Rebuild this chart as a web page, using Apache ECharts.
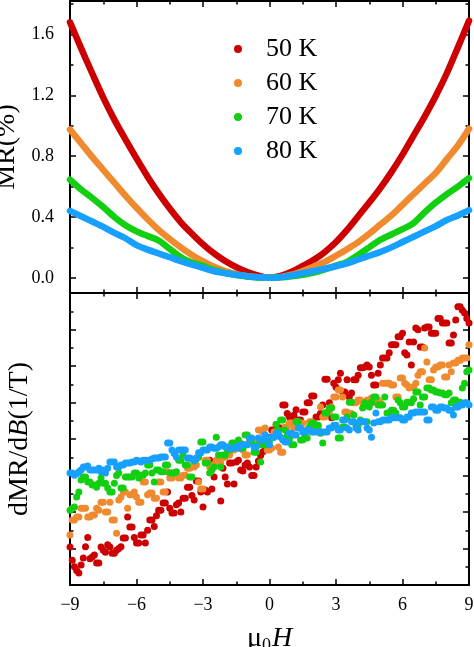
<!DOCTYPE html>
<html>
<head>
<meta charset="utf-8">
<title>MR and dMR/dB</title>
<script src="https://cdn.jsdelivr.net/npm/echarts@6.0.0/dist/echarts.min.js"></script>
<style>
  html, body { margin: 0; padding: 0; background: #fff; }
  #chart { width: 474px; height: 647px; }
</style>
</head>
<body>
<div id="chart"></div>
<script>
// legend / series names and colours
const temps = ['50 K', '60 K', '70 K', '80 K'];
const colors = ['#cc0000', '#f08a2e', '#12cf12', '#17a0ff'];

// top panel: MR(%) vs field, 0.5 T step
const fieldMR = [-9, -8.5, -8, -7.5, -7, -6.5, -6, -5.5, -5, -4.5, -4, -3.5, -3, -2.5, -2, -1.5, -1, -0.5, 0,
  0.5, 1, 1.5, 2, 2.5, 3, 3.5, 4, 4.5, 5, 5.5, 6, 6.5, 7, 7.5, 8, 8.5, 9];
const mr50 = [1.68, 1.51, 1.345, 1.185, 1.04, 0.91, 0.785, 0.665, 0.555, 0.455, 0.365, 0.29, 0.22, 0.16, 0.11, 0.07, 0.038, 0.014, 0,
  0.012, 0.04, 0.078, 0.118, 0.17, 0.235, 0.315, 0.405, 0.495, 0.59, 0.695, 0.81, 0.935, 1.06, 1.195, 1.345, 1.515, 1.69];
const mr60 = [0.975, 0.885, 0.795, 0.71, 0.625, 0.54, 0.46, 0.385, 0.315, 0.255, 0.2, 0.15, 0.108, 0.072, 0.044, 0.024, 0.01, 0.003, 0,
  0.005, 0.02, 0.045, 0.075, 0.105, 0.145, 0.188, 0.235, 0.29, 0.35, 0.41, 0.48, 0.55, 0.62, 0.69, 0.78, 0.87, 0.98];
const mr70 = [0.645, 0.58, 0.525, 0.465, 0.40, 0.345, 0.305, 0.275, 0.245, 0.19, 0.135, 0.10, 0.078, 0.05, 0.032, 0.018, 0.008, 0.002, 0,
  0.003, 0.01, 0.02, 0.035, 0.055, 0.08, 0.105, 0.15, 0.20, 0.25, 0.285, 0.32, 0.36, 0.43, 0.495, 0.55, 0.60, 0.655];
const mr80 = [0.44, 0.405, 0.37, 0.335, 0.295, 0.26, 0.215, 0.185, 0.16, 0.135, 0.11, 0.087, 0.065, 0.043, 0.03, 0.02, 0.01, 0.003, 0,
  0.004, 0.015, 0.03, 0.045, 0.06, 0.076, 0.095, 0.12, 0.145, 0.17, 0.2, 0.235, 0.27, 0.305, 0.34, 0.38, 0.41, 0.445];

// bottom panel: dMR/dB (arb. units, 0..8) vs field
// even tenths
const fieldD = [-9, -8.8, -8.6, -8.4, -8.2, -8, -7.8, -7.6, -7.4, -7.2, -7, -6.8, -6.6, -6.4, -6.2, -6, -5.8, -5.6, -5.4, -5.2,
  -5, -4.8, -4.6, -4.4, -4.2, -4, -3.8, -3.6, -3.4, -3.2, -3, -2.8, -2.6, -2.4, -2.2, -2, -1.8, -1.6, -1.4, -1.2,
  -1, -0.8, -0.6, -0.4, -0.2, 0, 0.2, 0.4, 0.6, 0.8, 1, 1.2, 1.4, 1.6, 1.8, 2, 2.2, 2.4, 2.6, 2.8,
  3, 3.2, 3.4, 3.6, 3.8, 4, 4.2, 4.4, 4.6, 4.8, 5, 5.2, 5.4, 5.6, 5.8, 6, 6.2, 6.4, 6.6, 6.8,
  7, 7.2, 7.4, 7.6, 7.8, 8, 8.2, 8.4, 8.6, 8.8, 9];
const d50 = [1.04, 0.50, 0.33, 0.74, 1.30, 0.77, 0.60, 1.04, 0.90, 1.04,
  0.87, 1.00, 1.29, 1.86, 1.59, 1.15, 1.37, 1.15, 1.78, 1.60,
  2.05, 2.25, 2.55, 1.97, 2.20, 2.00, 2.38, 2.68, 2.33, 2.85,
  2.14, 2.55, 2.63, 3.42, 2.30, 2.96, 3.34, 2.77, 3.42, 3.12,
  3.34, 3.00, 3.23, 3.55, 3.80, 4.05, 4.25, 4.10, 4.93, 4.70,
  4.60, 4.80, 4.52, 4.74, 4.99, 5.18, 4.60, 4.93, 5.64, 4.58,
  5.42, 5.80, 5.29, 5.15, 5.62, 5.75, 5.95, 6.03, 5.75, 5.48,
  6.03, 6.22, 6.36, 6.58, 6.80, 6.90, 6.30, 6.03, 7.04, 6.52,
  7.04, 7.07, 6.90, 7.30, 7.18, 7.18, 6.63, 7.26, 7.62, 7.45,
  7.18];
const d60 = [1.37, 1.78, 1.86, 2.10, 1.86, 1.92, 2.10, 2.27, 2.00, 2.27,
  1.78, 2.33, 2.55, 2.10, 2.47, 2.41, 2.27, 2.82, 2.52, 2.38,
  2.82, 2.55, 3.10, 2.93, 3.07, 2.93, 3.01, 3.20, 3.23, 2.82,
  2.63, 3.42, 3.23, 3.42, 3.34, 3.50, 3.56, 3.70, 3.89, 3.70,
  3.56, 3.97, 3.89, 4.25, 4.30, 3.70, 4.19, 3.78, 3.64, 4.33,
  4.44, 4.47, 4.44, 4.25, 4.47, 4.30, 4.30, 4.60, 4.74, 4.88,
  5.15, 5.34, 4.74, 4.70, 4.99, 5.07, 4.99, 5.07, 5.12, 5.00,
  4.99, 5.53, 5.53, 5.48, 5.15, 5.67, 5.48, 5.42, 5.53, 5.84,
  6.49, 5.62, 5.89, 5.97, 6.03, 5.70, 5.84, 6.08, 6.16, 6.22,
  6.58];
const d70 = [2.05, 2.14, 2.55, 2.96, 2.82, 2.74, 2.68, 2.93, 2.79, 2.55,
  2.79, 3.07, 2.66, 2.96, 2.96, 3.07, 3.01, 3.07, 3.29, 2.82,
  3.15, 3.10, 3.29, 3.07, 3.10, 3.42, 3.29, 2.96, 3.40, 3.50,
  3.92, 3.34, 3.15, 4.05, 3.23, 3.56, 3.70, 3.89, 3.97, 3.75,
  4.11, 3.89, 3.64, 3.37, 3.84, 3.95, 4.05, 4.25, 4.52, 4.10,
  3.84, 4.47, 3.97, 4.10, 4.33, 4.44, 4.38, 3.89, 4.71, 4.85,
  4.60, 4.03, 4.33, 5.01, 4.66, 4.38, 4.85, 4.47, 5.01, 5.15,
  4.93, 5.15, 4.71, 4.79, 5.07, 4.88, 5.01, 4.99, 5.29, 4.93,
  5.15, 5.40, 5.34, 5.29, 5.26, 5.21, 4.99, 5.07, 5.01, 5.53,
  5.89];
const d80 = [3.07, 3.01, 3.10, 3.23, 3.26, 3.15, 3.15, 3.10, 3.07, 3.37,
  3.37, 3.23, 3.29, 3.34, 3.37, 3.42, 3.37, 3.42, 3.42, 3.48,
  3.48, 3.51, 3.89, 3.70, 3.51, 3.70, 3.70, 3.48, 3.42, 3.62,
  3.70, 3.70, 3.78, 3.75, 3.84, 3.78, 3.75, 3.75, 3.75, 3.84,
  3.84, 4.03, 3.78, 3.97, 4.11, 3.84, 4.05, 4.16, 3.97, 3.92,
  4.16, 4.11, 4.30, 4.19, 4.25, 4.19, 4.19, 4.19, 4.19, 4.30,
  4.38, 4.25, 4.52, 4.25, 4.47, 4.25, 4.47, 4.30, 4.05, 4.71,
  4.47, 4.52, 4.52, 4.58, 4.58, 4.52, 4.60, 4.71, 4.74, 4.74,
  4.74, 4.52, 4.88, 4.79, 4.88, 4.85, 4.79, 4.88, 4.93, 4.99,
  4.93];
// odd tenths
const fieldD2 = [-8.9, -8.7, -8.5, -8.3, -8.1, -7.9, -7.7, -7.5, -7.3, -7.1, -6.9, -6.7, -6.5, -6.3, -6.1, -5.9, -5.7, -5.5, -5.3, -5.1,
  -4.9, -4.7, -4.5, -4.3, -4.1, -3.9, -3.7, -3.5, -3.3, -3.1, -2.9, -2.7, -2.5, -2.3, -2.1, -1.9, -1.7, -1.5, -1.3, -1.1,
  -0.9, -0.7, -0.5, -0.3, -0.1, 0.1, 0.3, 0.5, 0.7, 0.9, 1.1, 1.3, 1.5, 1.7, 1.9, 2.1, 2.3, 2.5, 2.7, 2.9,
  3.1, 3.3, 3.5, 3.7, 3.9, 4.1, 4.3, 4.5, 4.7, 4.9, 5.1, 5.3, 5.5, 5.7, 5.9, 6.1, 6.3, 6.5, 6.7, 6.9,
  7.1, 7.3, 7.5, 7.7, 7.9, 8.1, 8.3, 8.5, 8.7, 8.9];
const d50b = [0.68, 0.40, 0.55, 1.05, 0.72, 0.82, 0.60, 0.95, 1.10, 0.87,
  0.95, 1.05, 1.29, 1.59, 1.30, 1.15, 1.37, 1.50, 1.78, 1.90,
  2.05, 2.25, 2.10, 1.97, 2.25, 2.38, 2.68, 2.45, 2.85, 2.55,
  2.60, 3.42, 2.96, 3.34, 3.20, 2.77, 3.34, 3.37, 3.15, 3.29,
  3.23, 3.00, 3.40, 3.65, 3.95, 4.25, 4.40, 4.30, 4.93, 4.60,
  4.65, 4.52, 4.74, 4.99, 5.18, 4.60, 4.70, 5.64, 4.99, 5.53,
  5.62, 5.29, 5.62, 5.26, 5.62, 5.95, 5.97, 5.97, 5.48, 5.80,
  6.22, 6.22, 6.58, 6.58, 6.80, 6.36, 6.66, 6.66, 6.99, 6.52,
  7.07, 6.90, 6.90, 7.30, 7.18, 6.63, 6.85, 7.62, 7.53, 7.30];
const d60b = [1.78, 1.86, 2.10, 2.10, 1.86, 1.92, 2.05, 2.27, 2.00, 1.78,
  1.42, 2.41, 2.55, 2.47, 2.55, 2.27, 2.82, 2.47, 2.52, 2.38,
  2.82, 2.55, 2.93, 3.07, 2.93, 3.01, 3.20, 3.23, 3.29, 2.63,
  3.42, 3.23, 3.30, 3.34, 3.50, 3.56, 3.70, 3.75, 3.89, 3.56,
  3.97, 3.89, 4.25, 4.19, 3.70, 3.75, 4.19, 3.64, 4.33, 4.44,
  4.30, 4.47, 4.44, 4.25, 4.47, 4.30, 4.88, 4.60, 4.74, 5.15,
  5.34, 5.15, 4.74, 4.70, 4.99, 5.07, 4.99, 5.07, 5.00, 5.07,
  5.53, 5.53, 5.48, 5.15, 5.67, 5.53, 5.40, 5.42, 5.75, 5.84,
  6.11, 5.62, 5.97, 6.03, 5.70, 6.03, 6.08, 6.16, 6.22, 6.22];
const d70b = [2.10, 2.41, 2.88, 2.96, 2.82, 2.74, 2.79, 2.79, 2.66, 2.55,
  3.00, 2.66, 2.96, 2.96, 3.07, 2.93, 3.01, 3.29, 3.07, 3.15,
  3.10, 3.29, 3.07, 3.07, 3.42, 3.56, 3.29, 2.96, 3.45, 3.92,
  3.34, 3.07, 3.23, 3.56, 3.56, 3.70, 3.89, 3.80, 3.75, 4.11,
  3.89, 3.64, 3.84, 3.84, 4.00, 4.05, 4.40, 4.52, 4.25, 4.00,
  3.84, 4.47, 3.97, 4.03, 4.44, 4.38, 4.16, 4.71, 4.85, 4.60,
  4.03, 4.33, 4.60, 5.01, 4.38, 4.52, 4.99, 4.88, 5.15, 4.93,
  4.93, 4.71, 4.79, 4.71, 4.99, 4.88, 5.01, 5.10, 5.29, 5.15,
  5.40, 5.34, 5.29, 5.26, 5.21, 5.26, 5.07, 5.01, 5.40, 5.84];
const d80b = [3.07, 3.05, 3.15, 3.23, 3.15, 3.15, 3.20, 3.15, 3.20, 3.37,
  3.23, 3.29, 3.34, 3.34, 3.37, 3.40, 3.42, 3.42, 3.45, 3.48,
  3.51, 3.51, 3.89, 3.60, 3.70, 3.70, 3.48, 3.45, 3.48, 3.62,
  3.70, 3.78, 3.75, 3.78, 3.84, 3.78, 3.75, 3.78, 3.84, 3.84,
  4.03, 3.78, 4.03, 3.97, 4.03, 4.05, 4.16, 4.05, 3.92, 4.16,
  4.11, 4.30, 4.19, 4.25, 4.19, 4.19, 4.19, 4.19, 4.30, 4.38,
  4.25, 4.52, 4.30, 4.47, 4.30, 4.47, 4.47, 4.25, 4.44, 4.47,
  4.52, 4.52, 4.58, 4.58, 4.58, 4.52, 4.60, 4.71, 4.74, 4.74,
  4.52, 4.88, 4.79, 4.88, 4.85, 4.79, 4.66, 4.88, 4.93, 4.99];

const mrSets = [mr50, mr60, mr70, mr80];
const dSets = [d50, d60, d70, d80];
const dSetsB = [d50b, d60b, d70b, d80b];

const serif = 'Liberation Serif';
const black = '#000';

// x axis (field), shared look for both panels
function fieldAxis(gridIndex, position, showLabels) {
  return {
    type: 'value', gridIndex: gridIndex, position: position,
    min: -9, max: 9, interval: 3,
    axisLine: { show: true, onZero: false, lineStyle: { color: black, width: 2 } },
    axisTick: { show: true, inside: true, length: 6, lineStyle: { color: black, width: 1.5 } },
    minorTick: { show: true, splitNumber: 2, length: 3.5, lineStyle: { color: black, width: 1.5 } },
    axisLabel: {
      show: showLabels, margin: 11, fontFamily: serif, fontSize: 18, color: black,
      formatter: v => (v < 0 ? '\u2212' + Math.abs(v) : String(v))
    },
    splitLine: { show: false }
  };
}

// MR axis: major (0.4) and minor (0.2) copies, min is not on the tick grid
function mrAxis(position, step, tickLen, showLabels) {
  return {
    type: 'value', gridIndex: 0, position: position,
    min: -0.1, max: 1.82, minInterval: step, maxInterval: step,
    axisLine: { show: true, onZero: false, lineStyle: { color: black, width: 2 } },
    axisTick: { show: true, inside: true, length: tickLen, lineStyle: { color: black, width: 1.5 } },
    axisLabel: {
      show: showLabels, margin: 16, fontFamily: serif, fontSize: 18, color: black,
      formatter: v => {
        const k = v / 0.4;
        return (v > -0.01 && Math.abs(k - Math.round(k)) < 1e-6) ? v.toFixed(1) : '';
      }
    },
    splitLine: { show: false }
  };
}

function dAxis(position) {
  return {
    type: 'value', gridIndex: 1, position: position,
    min: 0, max: 8, interval: 1,
    axisLine: { show: true, onZero: false, lineStyle: { color: black, width: 2 } },
    axisTick: { show: true, inside: true, length: 6, lineStyle: { color: black, width: 1.5 } },
    minorTick: { show: true, splitNumber: 2, length: 3.5, lineStyle: { color: black, width: 1.5 } },
    axisLabel: { show: false },
    splitLine: { show: false }
  };
}

const xAxes = [
  fieldAxis(0, 'bottom', false),
  fieldAxis(0, 'top', false),
  fieldAxis(1, 'bottom', true),
  fieldAxis(1, 'top', false)
];
xAxes[2].name = '{m|\u03bc}{s|0}{h|H}';
xAxes[2].nameLocation = 'middle';
xAxes[2].nameGap = 38;
xAxes[2].nameTextStyle = {
  fontFamily: serif, fontSize: 28, color: black,
  rich: {
    m: { fontFamily: serif, fontSize: 28, color: black },
    s: { fontFamily: serif, fontSize: 18, color: black, padding: [14, 1, 0, 0] },
    h: { fontFamily: serif, fontSize: 28, fontStyle: 'italic', color: black }
  }
};

const yAxes = [
  mrAxis('left', 0.4, 6, true),
  mrAxis('left', 0.2, 3.5, false),
  mrAxis('right', 0.4, 6, false),
  mrAxis('right', 0.2, 3.5, false),
  dAxis('left'),
  dAxis('right')
];
yAxes[0].name = 'MR(%)';
yAxes[0].nameLocation = 'middle';
yAxes[0].nameGap = 37;
yAxes[0].nameRotate = 90;
yAxes[0].nameTextStyle = { fontFamily: serif, fontSize: 28, color: black };
yAxes[4].name = 'dMR/d{b|B}(1/T)';
yAxes[4].nameLocation = 'middle';
yAxes[4].nameGap = 36;
yAxes[4].nameRotate = 90;
yAxes[4].nameTextStyle = {
  fontFamily: serif, fontSize: 28, color: black,
  rich: { b: { fontFamily: serif, fontSize: 28, fontStyle: 'italic', color: black } }
};

const series = [];
// bottom scatter first, so the legend takes its plain dot style
temps.forEach((name, i) => {
  const pts = fieldD.map((b, j) => [b, dSets[i][j]])
    .concat(fieldD2.map((b, j) => [b, dSetsB[i][j]]));
  series.push({
    name: name, type: 'scatter', xAxisIndex: 2, yAxisIndex: 4,
    symbol: 'circle', symbolSize: 7,
    itemStyle: { color: colors[i], opacity: 1 },
    data: pts
  });
});
temps.forEach((name, i) => {
  series.push({
    name: name, type: 'line', xAxisIndex: 0, yAxisIndex: 0,
    symbol: 'circle', showSymbol: false, smooth: 0.35,
    lineStyle: { color: colors[i], width: 6.5, cap: 'round', join: 'round' },
    itemStyle: { color: colors[i] },
    data: fieldMR.map((b, j) => [b, mrSets[i][j]])
  });
});

const chart = echarts.init(document.getElementById('chart'), null, { renderer: 'canvas' });
chart.setOption({
  animation: false,
  backgroundColor: '#fff',
  color: colors,
  grid: [
    { left: 70, width: 399, top: 1, height: 292, containLabel: false, outerBoundsMode: 'none' },
    { left: 70, width: 399, top: 293, height: 292, containLabel: false, outerBoundsMode: 'none' }
  ],
  legend: {
    data: temps, orient: 'vertical', left: 229, top: 31,
    icon: 'circle', itemWidth: 46, itemHeight: 8, itemGap: 8,
    symbolKeepAspect: true,
    itemStyle: { borderWidth: 0 },
    textStyle: { fontFamily: serif, fontSize: 26, lineHeight: 26, color: black }
  },
  xAxis: xAxes,
  yAxis: yAxes,
  series: series
});
</script>
</body>
</html>
